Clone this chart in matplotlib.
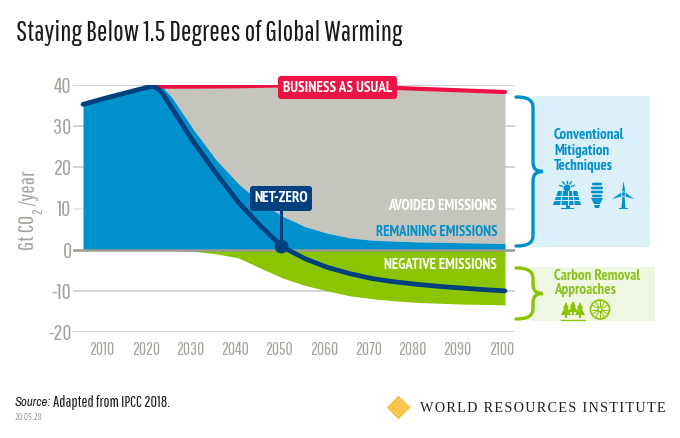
import matplotlib
matplotlib.use("Agg")
import matplotlib.pyplot as plt
import numpy as np
from matplotlib.patches import Circle, FancyBboxPatch, PathPatch, Polygon, Rectangle
from matplotlib.path import Path
from matplotlib.transforms import ScaledTranslation

# chart data
years = [2005, 2010, 2015, 2020, 2021, 2022, 2023, 2025, 2030, 2035, 2040, 2045,
         2050, 2055, 2060, 2065, 2070, 2075, 2080, 2085, 2090, 2095, 2100]
net_zero = [35.3, 36.8, 38.2, 39.6, 39.6, 39.0, 37.8, 34.4, 26.0, 18.5, 11.5, 5.7,
            0.6, -2.2, -4.3, -5.8, -7.0, -7.8, -8.4, -8.9, -9.3, -9.7, -10.0]
remaining_top = [35.3, 36.8, 38.2, 39.6, 39.6, 39.5, 39.4, 37.0, 29.0, 21.8, 16.0, 11.5,
                 8.1, 5.6, 4.0, 2.9, 2.3, 2.1, 1.9, 1.8, 1.7, 1.6, 1.5]
negative_bottom = [0, 0, 0, 0, 0, 0, 0, -0.1, -0.4, -1.0, -2.0, -4.5,
                   -6.9, -8.7, -10.0, -11.2, -11.9, -12.4, -12.8, -13.0, -13.2, -13.3, -13.4]
bau_years = [2020, 2030, 2040, 2050, 2060, 2070, 2080, 2090, 2100]
bau = [39.6, 39.6, 39.7, 39.9, 39.8, 39.5, 39.1, 38.7, 38.3]
net_zero_year = 2049.6
net_zero_level = 0.8
y_ticks = [40, 30, 20, 10, 0, -10, -20]
x_ticks = [2010, 2020, 2030, 2040, 2050, 2060, 2070, 2080, 2090, 2100]

W, H = 680, 438
THIN = ["Pathway Gothic One", "Liberation Sans"]
BOLD = ["PT Sans Narrow", "Archivo Narrow", "Liberation Sans"]
RED = "#ee1144"
NAVY = "#00407f"
BLUE = "#0090cc"
GREEN = "#8bc400"
GRAY = "#c6c5bd"
TICK = "#a3a39b"
GOLD = "#f9b51a"

fig = plt.figure(figsize=(W / 100, H / 100), dpi=100, facecolor="white")

# main axes placed on pixel positions: 2005 at x=83, 2100 at x=505, 40 at y=85, -20 at y=332
left, right, top, bottom = 73, 515, 85, 332
px_per_year = (505 - 83) / 95
ax = fig.add_axes([left / W, 1 - bottom / H, (right - left) / W, (bottom - top) / H])
ax.set_xlim(2005 + (left - 83) / px_per_year, 2100 + (right - 505) / px_per_year)
ax.set_ylim(-20, 40)
ax.patch.set_alpha(0)
for s in ax.spines.values():
    s.set_visible(False)

# gridlines
for v in y_ticks:
    if v == 0:
        continue
    ax.axhline(v, color="#e2e2e2" if v == 10 else "#c9c9c9", lw=1.1, zorder=1)

years_a = np.array(years)
bau_full = np.interp(years_a, bau_years, bau)
ax.fill_between(years, remaining_top, bau_full, where=years_a >= 2020, color=GRAY, lw=0, zorder=2)
ax.fill_between(years, 0, remaining_top, color=BLUE, lw=0, zorder=3)
ax.fill_between(years, 0, negative_bottom, color=GREEN, lw=0, zorder=3)
ax.axhline(0, color="#9a9a90", lw=1.8, zorder=4)
ax.plot(bau_years, bau, color=RED, lw=3, zorder=5, solid_capstyle="round")
ax.plot(years, net_zero, color=NAVY, lw=3.4, zorder=6, solid_capstyle="round", solid_joinstyle="round")
ax.plot([net_zero_year, net_zero_year], [net_zero_level, 10], color=NAVY, lw=2.2, zorder=6)
ax.plot([net_zero_year], [net_zero_level], "o", color=NAVY, ms=10, mew=0, zorder=7)

# ticks
ax.tick_params(length=0)
ax.set_yticks(y_ticks)
ax.set_yticklabels([str(v) for v in y_ticks], family=THIN, fontsize=16, color=TICK)
ax.tick_params(axis="y", pad=1)
ax.set_xticks(x_ticks)
ax.set_xticklabels([str(v) for v in x_ticks], family=THIN, fontsize=12.5, color=TICK)
ax.tick_params(axis="x", pad=7)
shift = ScaledTranslation(-3.5 / 100, 0, fig.dpi_scale_trans)
for lab in ax.get_xticklabels():
    lab.set_transform(lab.get_transform() + shift)

# overlay in pixel coordinates for callouts, panels and icons
ov = fig.add_axes([0, 0, 1, 1], zorder=10)
ov.set_xlim(0, W)
ov.set_ylim(H, 0)
ov.axis("off")

ov.text(16, 33, "Staying Below 1.5 Degrees of Global Warming", family=THIN, fontsize=20.35,
        color="#1a1a1a", va="center", ha="left")

# y axis title, subscript set as its own text
ov.text(28, 250, "Gt CO", family=THIN, fontsize=16, color=TICK, rotation=90, ha="center", va="bottom")
ov.text(38, 211, "2", family=THIN, fontsize=10, color=TICK, rotation=90, ha="center", va="center")
ov.text(28, 206, "/year", family=THIN, fontsize=16, color=TICK, rotation=90, ha="center", va="bottom")

# labels on the chart
ov.add_patch(FancyBboxPatch((278, 76), 119, 23, boxstyle="round,pad=0,rounding_size=3", fc=RED, ec="none"))
ov.text(338, 88, "BUSINESS AS USUAL", family=BOLD, fontsize=10.9, weight="bold", color="white", ha="center", va="center")
ov.add_patch(FancyBboxPatch((250, 186), 62, 25, boxstyle="round,pad=0,rounding_size=3", fc=NAVY, ec="none"))
ov.text(281, 198.5, "NET-ZERO", family=BOLD, fontsize=11, weight="bold", color="white", ha="center", va="center")
ov.text(497, 205.5, "AVOIDED EMISSIONS", family=BOLD, fontsize=10.6, weight="bold", color="white", ha="right", va="center")
ov.text(497, 231.5, "REMAINING EMISSIONS", family=BOLD, fontsize=10.5, weight="bold", color=BLUE, ha="right", va="center")
ov.text(497, 265, "NEGATIVE EMISSIONS", family=BOLD, fontsize=10.5, weight="bold", color="white", ha="right", va="center")


def brace(x0, y0, y1, color):
    # curly bracket with its point on the right
    ym = (y0 + y1) / 2
    xs = x0 + 17
    verts = [(x0, y0), (x0 + 12, y0), (xs, y0 + 3), (xs, y0 + 11), (xs, ym - 10), (xs, ym - 3), (x0 + 20, ym), (x0 + 27, ym),
             (x0 + 20, ym), (xs, ym + 3), (xs, ym + 10), (xs, y1 - 11), (xs, y1 - 3), (x0 + 12, y1), (x0, y1)]
    codes = [Path.MOVETO, Path.CURVE4, Path.CURVE4, Path.CURVE4, Path.LINETO, Path.CURVE4, Path.CURVE4, Path.CURVE4,
             Path.CURVE4, Path.CURVE4, Path.CURVE4, Path.LINETO, Path.CURVE4, Path.CURVE4, Path.CURVE4]
    ov.add_patch(PathPatch(Path(verts, codes), fc="none", ec=color, lw=2.4, capstyle="round"))


# side panels
ov.add_patch(Rectangle((532, 96), 118, 151, fc="#dcf0fa", ec="none"))
ov.add_patch(Rectangle((532, 267), 123, 54, fc="#eff6e2", ec="none"))
brace(516, 97, 246, BLUE)
brace(516, 268, 319, GREEN)
ov.text(554, 150.5, "Conventional\nMitigation\nTechniques", family=BOLD, fontsize=10.8, weight="bold", color=BLUE,
        ha="left", va="center", linespacing=1.15)
ov.text(554.5, 283, "Carbon Removal\nApproaches", family=BOLD, fontsize=10.8, weight="bold", color="#8cc220",
        ha="left", va="center", linespacing=1.08)

# solar panel icon
ov.add_patch(Polygon([(558, 191), (577, 191), (581, 205), (553, 205)], fc=BLUE, ec="none"))
for x in (562.5, 567.5, 572.5):
    ov.plot([x, x + (x - 567.5) * 0.35], [191, 205], color="#dcf0fa", lw=0.8)
for y in (195.5, 200):
    ov.plot([553, 581], [y, y], color="#dcf0fa", lw=0.8)
ov.add_patch(Rectangle((565.5, 205), 4, 3, fc=BLUE, ec="none"))
ov.add_patch(Rectangle((561, 207.5), 13, 1.5, fc=BLUE, ec="none"))
ov.add_patch(Circle((567, 188), 3.5, fc=BLUE, ec="none"))
for a in np.radians([20, 55, 90, 125, 160]):
    ov.plot([567 + 5 * np.cos(a), 567 + 7.5 * np.cos(a)], [188 - 5 * np.sin(a), 188 - 7.5 * np.sin(a)], color=BLUE, lw=1)

# bulb icon
for y, w in zip((184, 188, 192, 196), (10, 12, 12, 10)):
    ov.add_patch(FancyBboxPatch((597 - w / 2, y - 1.3), w, 2.6, boxstyle="round,pad=0,rounding_size=1.2", fc=BLUE, ec="none"))
ov.add_patch(Polygon([(591, 198), (603, 198), (600, 204), (594, 204)], fc=BLUE, ec="none"))
ov.add_patch(Polygon([(594, 205), (600, 205), (599, 208), (595, 208)], fc=BLUE, ec="none"))

# wind turbine icon
ov.add_patch(Polygon([(622.5, 196), (624.5, 196), (625.5, 208), (621.5, 208)], fc=BLUE, ec="none"))
ov.add_patch(Rectangle((619, 207.5), 9, 1.5, fc=BLUE, ec="none"))
ov.add_patch(Polygon([(622, 193), (623.5, 181), (625.5, 193)], fc=BLUE, ec="none"))
ov.add_patch(Polygon([(621.5, 192.5), (612, 199), (623, 196)], fc=BLUE, ec="none"))
ov.add_patch(Polygon([(625.5, 192.5), (634, 199), (624, 196)], fc=BLUE, ec="none"))
ov.add_patch(Circle((623.5, 194), 2.2, fc=BLUE, ec="#dcf0fa", lw=0.6))

# tree icons
for cx, base, h in ((566, 318, 16), (573, 315, 14), (580, 318, 16)):
    ov.add_patch(Polygon([(cx, base - h), (cx + 3, base - h * 0.6), (cx + 1.8, base - h * 0.6), (cx + 5, base - 3), (cx - 5, base - 3),
                          (cx - 1.8, base - h * 0.6), (cx - 3, base - h * 0.6)], fc=GREEN, ec="none"))
    ov.add_patch(Rectangle((cx - 0.6, base - 3), 1.2, 3, fc=GREEN, ec="none"))
ov.plot([561, 585], [319.5, 319.5], color=GREEN, lw=0.9)

# wheel icon
ov.add_patch(Circle((600, 309.5), 9.5, fc="none", ec=GREEN, lw=1.2))
ov.add_patch(Circle((600, 309.5), 2.2, fc="none", ec=GREEN, lw=0.8))
for a in np.radians(np.arange(0, 360, 30)):
    ov.plot([600 + 2.2 * np.cos(a), 600 + 8.5 * np.cos(a)], [309.5 + 2.2 * np.sin(a), 309.5 + 8.5 * np.sin(a)], color=GREEN, lw=0.7)

# footer
ov.text(15, 403, "Source:", family=["Archivo Narrow", "Liberation Sans"], fontsize=9.2, style="italic", color="#1a1a1a", ha="left", va="center")
ov.text(53, 403, "Adapted from IPCC 2018.", family=THIN, fontsize=11.5, color="#1a1a1a", ha="left", va="center")
ov.text(15, 418, "20.05.28", family=BOLD, fontsize=6.6, color="#9a9a9a", ha="left", va="center")

# logo mark
for dx, dy in [(i - j, i + j - 4) for i in range(5) for j in range(5)]:
    cx, cy = 398.5 + dx * 2.4, 407.5 + dy * 2.4
    ov.add_patch(Polygon([(cx, cy - 2.2), (cx + 2.2, cy), (cx, cy + 2.2), (cx - 2.2, cy)], fc=GOLD, ec="none"))
    ov.add_patch(Circle((cx, cy), 0.4, fc="white", ec="none"))
# logo wordmark letter-spaced with hair spaces
wordmark = "\u200a".join("WORLD RESOURCES INSTITUTE")
ov.text(420, 408, wordmark, family=["Liberation Serif", "DejaVu Serif"], fontsize=10.25,
        color="#222222", ha="left", va="center")

fig.savefig("out.png", dpi=100)
